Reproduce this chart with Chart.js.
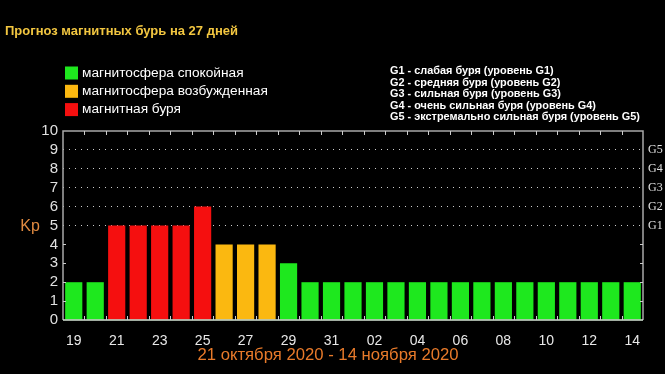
<!DOCTYPE html>
<html>
<head>
<meta charset="utf-8">
<script src="https://cdn.jsdelivr.net/npm/chart.js@4"></script>
<style>
  html, body { margin: 0; padding: 0; background: #000; }
  canvas { display: block; }
</style>
</head>
<body>
<canvas id="kpChart" width="665" height="374"></canvas>
<script>
// forecast days (19 Oct - 14 Nov 2020)
const days = ['19','20','21','22','23','24','25','26','27','28','29','30','31',
  '01','02','03','04','05','06','07','08','09','10','11','12','13','14'];
const kpValues = [2, 2, 5, 5, 5, 5, 6, 4, 4, 4, 3, 2, 2,
  2, 2, 2, 2, 2, 2, 2, 2, 2, 2, 2, 2, 2, 2];

const yTicks = [0, 1, 2, 3, 4, 5, 6, 7, 8, 9, 10];
const gLevels = ['G1', 'G2', 'G3', 'G4', 'G5'];

const legendLabels = ['магнитосфера спокойная', 'магнитосфера возбужденная', 'магнитная буря'];
const legendColors = ['#1ee81e', '#fbb810', '#f50f0f'];

const gLegendLines = [
  'G1 - слабая буря (уровень G1)',
  'G2 - средняя буря (уровень G2)',
  'G3 - сильная буря (уровень G3)',
  'G4 - очень сильная буря (уровень G4)',
  'G5 - экстремально сильная буря (уровень G5)'
];

const chartTitle = 'Прогноз магнитных бурь на 27 дней';
const yTitle = 'Kp';
const periodCaption = '21 октября 2020 - 14 ноября 2020';

const barColor = (v) => v >= 5 ? legendColors[2] : (v >= 4 ? legendColors[1] : legendColors[0]);

const extrasPlugin = {
  id: 'extras',
  beforeDraw(chart) {
    const ctx = chart.ctx;
    ctx.save();
    ctx.fillStyle = '#000';
    ctx.fillRect(0, 0, chart.width, chart.height);
    ctx.restore();
  },
  afterDraw(chart) {
    const ctx = chart.ctx;
    const area = chart.chartArea;
    const x = chart.scales.x;
    const y = chart.scales.y;
    ctx.save();

    // frame
    ctx.strokeStyle = '#a8a8a8';
    ctx.lineWidth = 1.5;
    ctx.beginPath();
    ctx.moveTo(area.left, area.bottom);
    ctx.lineTo(area.left, area.top);
    ctx.lineTo(area.right, area.top);
    ctx.lineTo(area.right, area.bottom);
    ctx.stroke();
    ctx.strokeStyle = '#d8e8d8';
    ctx.beginPath();
    ctx.moveTo(area.left, area.bottom);
    ctx.lineTo(area.right, area.bottom);
    ctx.stroke();

    // small ticks at category boundaries
    ctx.strokeStyle = '#cccccc';
    ctx.lineWidth = 1;
    for (let i = 1; i < days.length; i++) {
      const px = Math.round((x.getPixelForValue(i - 1) + x.getPixelForValue(i)) / 2) + 0.5;
      ctx.beginPath();
      ctx.moveTo(px, area.bottom);
      ctx.lineTo(px, area.bottom - 4);
      ctx.moveTo(px, area.top);
      ctx.lineTo(px, area.top + 4);
      ctx.stroke();
    }
    // small y ticks below the dotted grid
    for (let v = 1; v <= 4; v++) {
      const py = Math.round(y.getPixelForValue(v)) + 0.5;
      ctx.beginPath();
      ctx.moveTo(area.left, py);
      ctx.lineTo(area.left + 3, py);
      ctx.moveTo(area.right, py);
      ctx.lineTo(area.right - 3, py);
      ctx.stroke();
    }

    // title
    ctx.fillStyle = '#f2c640';
    ctx.font = 'bold 13px "Liberation Sans", Arial, sans-serif';
    ctx.textBaseline = 'middle';
    ctx.textAlign = 'left';
    ctx.fillText(chartTitle, 5, 31);

    // colour legend
    ctx.font = '13.7px "Liberation Sans", Arial, sans-serif';
    legendLabels.forEach((label, i) => {
      const cy = 73 + i * 18.3;
      ctx.fillStyle = legendColors[i];
      ctx.fillRect(65, cy - 6.5, 13, 13);
      ctx.fillStyle = '#ffffff';
      ctx.fillText(label, 82, cy);
    });

    // G level legend
    ctx.font = 'bold 10.9px "Liberation Sans", Arial, sans-serif';
    ctx.fillStyle = '#ffffff';
    gLegendLines.forEach((line, i) => {
      ctx.fillText(line, 390, 71 + i * 11.5);
    });

    // Kp label
    ctx.fillStyle = '#e08a40';
    ctx.font = '16px "Liberation Sans", Arial, sans-serif';
    ctx.textAlign = 'center';
    ctx.fillText(yTitle, 30, 227);

    // period caption
    ctx.fillStyle = '#e87a2a';
    ctx.font = '16.7px "Liberation Sans", Arial, sans-serif';
    ctx.fillText(periodCaption, 328, 355);

    ctx.restore();
  }
};

new Chart(document.getElementById('kpChart'), {
  type: 'bar',
  data: {
    labels: days,
    datasets: [{
      data: kpValues,
      backgroundColor: (c) => barColor(c.raw),
      borderWidth: 0,
      barPercentage: 0.8,
      categoryPercentage: 1.0
    }]
  },
  options: {
    responsive: false,
    animation: false,
    devicePixelRatio: 1,
    layout: { padding: { left: 0, right: 0, top: 131, bottom: 0 } },
    plugins: {
      legend: { display: false },
      tooltip: { enabled: false }
    },
    scales: {
      x: {
        afterFit: (s) => { s.height = 54; },
        grid: { display: false },
        border: { display: false },
        ticks: {
          color: '#e8e8e8',
          font: { family: '"Liberation Sans", Arial, sans-serif', size: 14 },
          padding: 5,
          maxRotation: 0,
          autoSkip: false,
          callback: (v, i) => i % 2 === 0 ? days[i] : ''
        }
      },
      y: {
        min: 0,
        max: 10,
        afterFit: (s) => { s.width = 63; },
        afterBuildTicks: (s) => { s.ticks = yTicks.map(v => ({ value: v })); },
        border: { display: false, dash: [1, 5] },
        grid: {
          drawTicks: false,
          lineWidth: 1,
          color: (c) => (c.tick && c.tick.value >= 5 && c.tick.value <= 9) ? 'rgba(255,255,255,0.8)' : 'rgba(0,0,0,0)'
        },
        ticks: {
          autoSkip: false,
          color: '#e0e0e0',
          font: { family: '"Liberation Sans", Arial, sans-serif', size: 15 },
          padding: 5
        }
      },
      yG: {
        position: 'right',
        min: 0,
        max: 10,
        afterFit: (s) => { s.width = 22; },
        afterBuildTicks: (s) => { s.ticks = yTicks.map(v => ({ value: v })); },
        border: { display: false },
        grid: { display: false, drawTicks: false },
        ticks: {
          autoSkip: false,
          color: '#e0e0e0',
          font: { family: '"Liberation Serif", serif', size: 12 },
          padding: 5,
          callback: (v) => (v >= 5 && v <= 9) ? gLevels[v - 5] : ''
        }
      }
    }
  },
  plugins: [extrasPlugin]
});
</script>
</body>
</html>
